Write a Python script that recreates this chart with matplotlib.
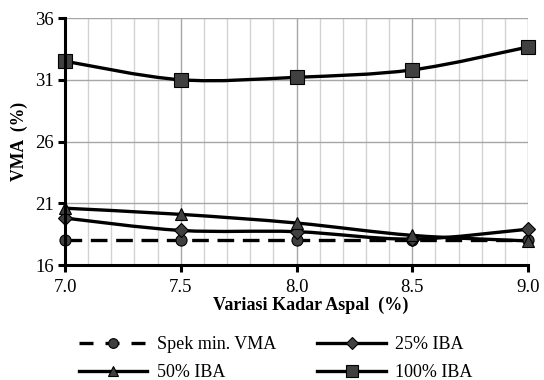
import numpy as np
import matplotlib
matplotlib.use("Agg")
import matplotlib.pyplot as plt
from matplotlib.path import Path
from matplotlib.patches import PathPatch
from matplotlib.lines import Line2D
from matplotlib.ticker import MultipleLocator

plt.rcParams["font.family"] = ["Liberation Serif", "DejaVu Serif"]

# =============================================

kadar_aspal = [7.0, 7.5, 8.0, 8.5, 9.0]
spek_min = [18.0, 18.0, 18.0, 18.0, 18.0]
iba_25 = [19.8, 18.8, 18.7, 18.1, 18.9]
iba_50 = [20.6, 20.1, 19.4, 18.4, 17.95]
iba_100 = [32.5, 31.0, 31.2, 31.8, 33.65]

x_ticks = ["7.0", "7.5", "8.0", "8.5", "9.0"]
y_ticks = [16, 21, 26, 31, 36]

# =============================================

def smoothPath(xs, ys):
    # Excel style smoothed line: Catmull-Rom segments as cubic beziers
    pts = np.column_stack([xs, ys])
    p = np.vstack([pts[0], pts, pts[-1]])
    verts = [tuple(pts[0])]
    codes = [Path.MOVETO]
    for i in range(1, len(p) - 2):
        c1 = p[i] + (p[i + 1] - p[i - 1]) / 6
        c2 = p[i + 1] - (p[i + 2] - p[i]) / 6
        verts += [tuple(c1), tuple(c2), tuple(p[i + 1])]
        codes += [Path.CURVE4] * 3
    return Path(verts, codes)

fig = plt.figure(figsize=(5.44, 3.80), dpi=100)
ax = fig.add_axes([0.1195, 0.3026, 0.8511, 0.650])

ax.set_xlim(7.0, 9.0)
ax.set_ylim(16, 36)
ax.xaxis.set_major_locator(MultipleLocator(0.5))
ax.xaxis.set_minor_locator(MultipleLocator(0.1))
ax.set_yticks(y_ticks)
ax.set_xticks(kadar_aspal)
ax.set_xticklabels(x_ticks)

ax.grid(True, which="minor", axis="x", color="#d2d2d2", linewidth=1.0)
ax.grid(True, which="major", axis="both", color="#a6a6a6", linewidth=1.0)
ax.set_axisbelow(True)

for side in ["top", "right"]:
    ax.spines[side].set_visible(False)
for side in ["left", "bottom"]:
    ax.spines[side].set_linewidth(2.2)
    ax.spines[side].set_zorder(5)

ax.tick_params(axis="both", which="major", direction="out", length=5, width=2.2,
               labelsize=13.5, color="black", pad=3)
ax.tick_params(axis="x", which="minor", length=0)
ax.tick_params(axis="x", pad=5)

# line style per series
dark = "#404040"
lw = 2.4
series = [
    ("Spek min. VMA", spek_min, "o", 8, 7, False),
    ("25% IBA", iba_25, "D", 7, 6, True),
    ("50% IBA", iba_50, "^", 9, 7.5, True),
    ("100% IBA", iba_100, "s", 10, 8, True),
]

handles = []
for name, vals, mk, ms, lms, smooth in series:
    if smooth:
        ax.add_patch(PathPatch(smoothPath(kadar_aspal, vals), facecolor="none",
                               edgecolor="black", linewidth=lw, zorder=3,
                               clip_on=False))
        ls = "-"
    else:
        ax.plot(kadar_aspal, vals, color="black", linewidth=lw,
                linestyle=(0, (5, 2.6)), zorder=3, clip_on=False)
        ls = (0, (4.2, 3.6))
    ax.plot(kadar_aspal, vals, linestyle="none", marker=mk, markersize=ms,
            markerfacecolor=dark, markeredgecolor="black", markeredgewidth=0.8,
            zorder=4, clip_on=False)
    handles.append(Line2D([], [], color="black", linewidth=lw, linestyle=ls,
                          marker=mk, markersize=lms, markerfacecolor=dark,
                          markeredgecolor="black", markeredgewidth=0.8, label=name))

ax.set_ylabel("VMA  (%)", fontsize=12.7, fontweight="bold")
ax.yaxis.set_label_coords(-0.080, 0.502)
ax.set_xlabel("Variasi Kadar Aspal  (%)", fontsize=13, fontweight="bold")
ax.xaxis.set_label_coords(0.531, -0.13)

order = [0, 2, 1, 3]
fig.legend([handles[i] for i in order], [handles[i].get_label() for i in order],
           ncol=2, loc="upper left", bbox_to_anchor=(0.145, 0.116), frameon=False,
           fontsize=13, handlelength=3.8, columnspacing=2.3, labelspacing=0.62,
           handletextpad=0.5, borderpad=0, borderaxespad=0)

plt.savefig("out.png", dpi=100)
